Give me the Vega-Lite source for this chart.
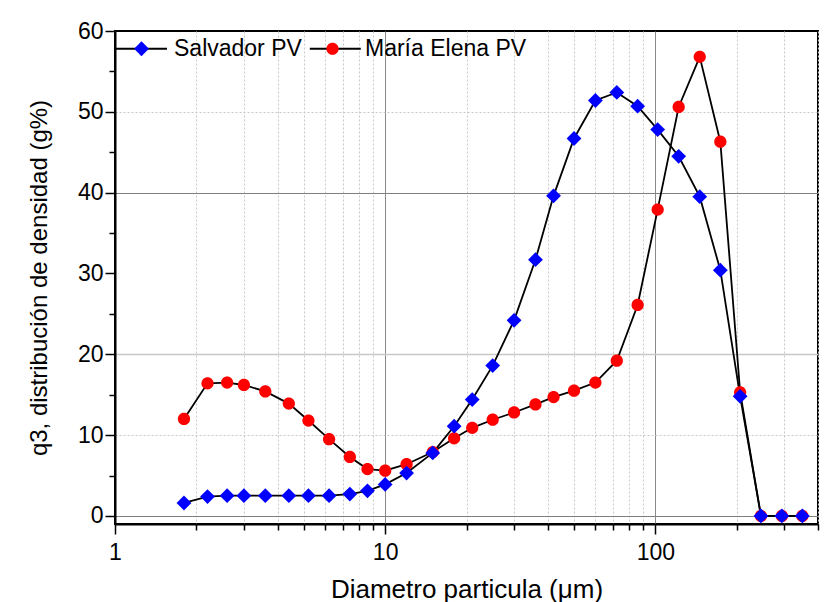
{
  "$schema": "https://vega.github.io/schema/vega-lite/v6.json",
  "width": 703,
  "height": 493,
  "autosize": {"type": "none"},
  "padding": {"left": 115, "top": 31, "right": 12, "bottom": 78},
  "background": "white",
  "config": {
    "font": "Liberation Sans",
    "view": {"stroke": "black", "strokeWidth": 2},
    "axis": {
      "domainColor": "black",
      "domainWidth": 2,
      "tickColor": "black",
      "tickWidth": 1.5,
      "labelColor": "black",
      "titleColor": "black",
      "labelFont": "Liberation Sans",
      "titleFont": "Liberation Sans",
      "labelFontSize": 23,
      "titleFontWeight": "normal",
      "labelOverlap": false,
      "labelFlush": false,
      "gridWidth": 1
    },
    "legend": {
      "labelFont": "Liberation Sans",
      "labelFontSize": 23,
      "labelColor": "black",
      "labelLimit": 400
    }
  },
  "data": {
    "values": [
      {"d": 1.8, "series": "María Elena PV", "q3": 12.0},
      {"d": 2.2, "series": "María Elena PV", "q3": 16.4},
      {"d": 2.6, "series": "María Elena PV", "q3": 16.5},
      {"d": 3.0, "series": "María Elena PV", "q3": 16.2},
      {"d": 3.6, "series": "María Elena PV", "q3": 15.4},
      {"d": 4.4, "series": "María Elena PV", "q3": 13.9},
      {"d": 5.2, "series": "María Elena PV", "q3": 11.8},
      {"d": 6.2, "series": "María Elena PV", "q3": 9.5},
      {"d": 7.4, "series": "María Elena PV", "q3": 7.3},
      {"d": 8.6, "series": "María Elena PV", "q3": 5.8},
      {"d": 10, "series": "María Elena PV", "q3": 5.6},
      {"d": 12, "series": "María Elena PV", "q3": 6.4},
      {"d": 15, "series": "María Elena PV", "q3": 7.9},
      {"d": 18, "series": "María Elena PV", "q3": 9.6},
      {"d": 21, "series": "María Elena PV", "q3": 10.9},
      {"d": 25, "series": "María Elena PV", "q3": 11.9},
      {"d": 30, "series": "María Elena PV", "q3": 12.8},
      {"d": 36, "series": "María Elena PV", "q3": 13.8},
      {"d": 42, "series": "María Elena PV", "q3": 14.7},
      {"d": 50, "series": "María Elena PV", "q3": 15.5},
      {"d": 60, "series": "María Elena PV", "q3": 16.5},
      {"d": 72, "series": "María Elena PV", "q3": 19.2},
      {"d": 86, "series": "María Elena PV", "q3": 26.1},
      {"d": 102, "series": "María Elena PV", "q3": 37.9},
      {"d": 122, "series": "María Elena PV", "q3": 50.6},
      {"d": 146, "series": "María Elena PV", "q3": 56.8},
      {"d": 174, "series": "María Elena PV", "q3": 46.3},
      {"d": 206, "series": "María Elena PV", "q3": 15.3},
      {"d": 246, "series": "María Elena PV", "q3": 0},
      {"d": 294, "series": "María Elena PV", "q3": 0},
      {"d": 350, "series": "María Elena PV", "q3": 0},
      {"d": 1.8, "series": "Salvador PV", "q3": 1.6},
      {"d": 2.2, "series": "Salvador PV", "q3": 2.4},
      {"d": 2.6, "series": "Salvador PV", "q3": 2.5},
      {"d": 3.0, "series": "Salvador PV", "q3": 2.5},
      {"d": 3.6, "series": "Salvador PV", "q3": 2.5},
      {"d": 4.4, "series": "Salvador PV", "q3": 2.5},
      {"d": 5.2, "series": "Salvador PV", "q3": 2.5},
      {"d": 6.2, "series": "Salvador PV", "q3": 2.5},
      {"d": 7.4, "series": "Salvador PV", "q3": 2.7},
      {"d": 8.6, "series": "Salvador PV", "q3": 3.1},
      {"d": 10, "series": "Salvador PV", "q3": 3.9},
      {"d": 12, "series": "Salvador PV", "q3": 5.3},
      {"d": 15, "series": "Salvador PV", "q3": 7.8},
      {"d": 18, "series": "Salvador PV", "q3": 11.1},
      {"d": 21, "series": "Salvador PV", "q3": 14.4},
      {"d": 25, "series": "Salvador PV", "q3": 18.6},
      {"d": 30, "series": "Salvador PV", "q3": 24.2},
      {"d": 36, "series": "Salvador PV", "q3": 31.7},
      {"d": 42, "series": "Salvador PV", "q3": 39.6},
      {"d": 50, "series": "Salvador PV", "q3": 46.7},
      {"d": 60, "series": "Salvador PV", "q3": 51.4},
      {"d": 72, "series": "Salvador PV", "q3": 52.4},
      {"d": 86, "series": "Salvador PV", "q3": 50.7},
      {"d": 102, "series": "Salvador PV", "q3": 47.8},
      {"d": 122, "series": "Salvador PV", "q3": 44.5},
      {"d": 146, "series": "Salvador PV", "q3": 39.5},
      {"d": 174, "series": "Salvador PV", "q3": 30.4},
      {"d": 206, "series": "Salvador PV", "q3": 14.8},
      {"d": 246, "series": "Salvador PV", "q3": 0},
      {"d": 294, "series": "Salvador PV", "q3": 0},
      {"d": 350, "series": "Salvador PV", "q3": 0}
    ]
  },
  "encoding": {
    "x": {
      "field": "d",
      "type": "quantitative",
      "scale": {"type": "log", "domain": [1, 400]},
      "axis": {
        "title": "Diametro particula (μm)",
        "titleFontSize": 26,
        "titlePadding": 12,
        "values": [1, 2, 3, 4, 5, 6, 7, 8, 9, 10, 20, 30, 40, 50, 60, 70, 80, 90, 100, 200, 300, 400],
        "labelExpr": "datum.value == 1 || datum.value == 10 || datum.value == 100 ? '' + datum.value : ''",
        "labelPadding": 7,
        "tickSize": {"condition": {"test": "datum.value == 1 || datum.value == 10 || datum.value == 100", "value": 10}, "value": 6},
        "grid": true,
        "gridColor": {"condition": {"test": "datum.value == 10 || datum.value == 100", "value": "#8a8a8a"}, "value": "#c8c8c8"},
        "gridDash": {"condition": {"test": "datum.value == 10 || datum.value == 100", "value": []}, "value": [2, 2]}
      }
    },
    "y": {
      "field": "q3",
      "type": "quantitative",
      "scale": {"domain": [-1, 60], "nice": false, "zero": false},
      "axis": {
        "title": "q3, distribución de densidad (g%)",
        "titleFontSize": 24,
        "titlePadding": 26,
        "values": [0, 5, 10, 15, 20, 25, 30, 35, 40, 45, 50, 55, 60],
        "labelExpr": "datum.value % 10 == 0 ? '' + datum.value : ''",
        "labelPadding": 2,
        "tickSize": {"condition": {"test": "datum.value % 10 == 0", "value": 10}, "value": 6},
        "grid": true,
        "gridOpacity": {"condition": {"test": "datum.value == 0 || datum.value == 10 || datum.value == 20 || datum.value == 40 || datum.value == 50", "value": 1}, "value": 0},
        "gridColor": {"condition": {"test": "datum.value == 0 || datum.value == 40", "value": "#7f7f7f"}, "value": "#c8c8c8"},
        "gridDash": {"condition": {"test": "datum.value == 10 || datum.value == 50", "value": [2, 2]}, "value": []},
        "gridWidth": {"condition": {"test": "datum.value == 20", "value": 1.6}, "value": 1}
      }
    }
  },
  "layer": [
    {
      "mark": {"type": "line", "strokeWidth": 1.8},
      "encoding": {
        "stroke": {
          "field": "series",
          "type": "nominal",
          "sort": ["Salvador PV", "María Elena PV"],
          "scale": {"range": ["black", "black"]},
          "legend": {
            "title": null,
            "orient": "none",
            "legendX": 0,
            "legendY": -9,
            "direction": "horizontal",
            "columns": 2,
            "padding": 0,
            "columnPadding": 131.8,
            "symbolType": "stroke",
            "symbolSize": 2601,
            "symbolStrokeWidth": 1.8,
            "symbolStrokeColor": "black",
            "labelOffset": 6,
            "labelExpr": "''"
          }
        }
      }
    },
    {
      "mark": {"type": "point", "filled": true, "opacity": 1, "size": 2601, "strokeWidth": 0},
      "encoding": {
        "fill": {
          "field": "series",
          "type": "nominal",
          "scale": {"domain": ["Salvador PV", "María Elena PV"], "range": ["#0000ff", "#ff0000"]},
          "legend": {
            "title": null,
            "orient": "none",
            "legendX": 0,
            "legendY": -9,
            "direction": "horizontal",
            "columns": 2,
            "padding": 0,
            "columnPadding": 4,
            "symbolSize": 2601,
            "symbolStrokeWidth": 1.8,
            "symbolStrokeColor": "transparent",
            "labelOffset": 6
          }
        },
        "shape": {
          "field": "series",
          "type": "nominal",
          "scale": {
            "domain": ["Salvador PV", "María Elena PV"],
            "range": [
              "M0,-0.29L0.29,0L0,0.29L-0.29,0Z",
              "M0.24,0A0.24,0.24,0,1,1,-0.24,0A0.24,0.24,0,1,1,0.24,0Z"
            ]
          },
          "legend": {
            "title": null,
            "orient": "none",
            "legendX": 0,
            "legendY": -9,
            "direction": "horizontal",
            "columns": 2,
            "padding": 0,
            "columnPadding": 4,
            "symbolSize": 2601,
            "symbolStrokeWidth": 1.8,
            "symbolStrokeColor": "transparent",
            "labelOffset": 6
          }
        }
      }
    }
  ]
}
